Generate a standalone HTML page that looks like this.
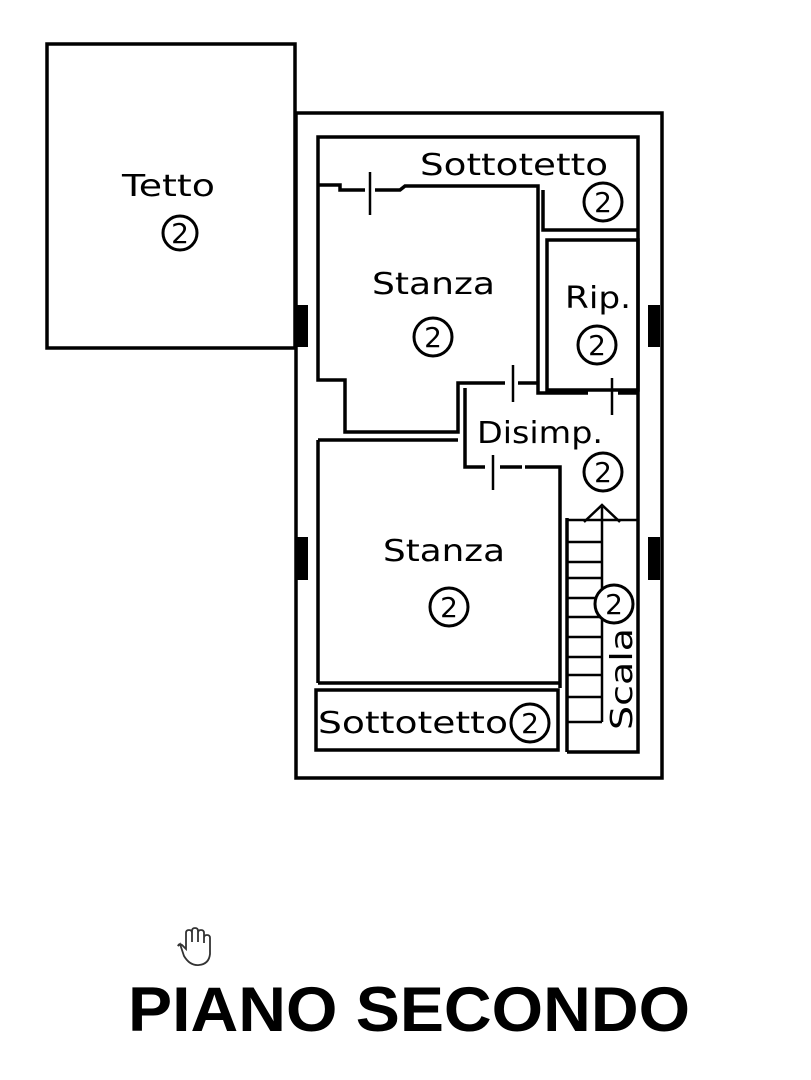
<!DOCTYPE html>
<html><head><meta charset="utf-8"><style>
html,body{margin:0;padding:0;background:#fff;width:811px;height:1080px;overflow:hidden}
svg{display:block}
text{font-family:"DejaVu Sans","Liberation Sans",sans-serif;fill:#000}
</style></head><body>
<svg width="811" height="1080" viewBox="0 0 811 1080" xmlns="http://www.w3.org/2000/svg">
<g fill="none" stroke="#000" stroke-width="3.5" stroke-linejoin="miter">
<rect x="47" y="44" width="248" height="304"/>
<rect x="296" y="113" width="366" height="665"/>
<polyline points="318,190 318,137 638,137 638,752 567,752"/>
<polyline points="543,190 543,230 638,230"/>
<polyline points="318,185 340,185 340,190 365,190"/>
<polyline points="375,190 400,190 405,186 538,186 538,393 588,393"/>
<polyline points="318,190 318,380 345,380 345,432 458,432 458,383 505,383"/>
<line x1="518" y1="383" x2="538" y2="383"/>
<polyline points="618,393 638,393"/>
<rect x="547" y="240" width="91" height="150"/>
<polyline points="465,388 465,467 485,467"/>
<polyline points="500,467 522,467"/>
<polyline points="525,467 560,467 560,688"/>
<polyline points="318,440 458,440"/>
<line x1="318" y1="440" x2="318" y2="683"/>
<line x1="318" y1="683" x2="560" y2="683"/>
<rect x="316" y="690" width="242" height="60"/>
<line x1="567" y1="518" x2="567" y2="752"/>
</g>
<g stroke="#000" stroke-width="2.5">
<line x1="370" y1="172" x2="370" y2="215"/>
<line x1="513" y1="365" x2="513" y2="402"/>
<line x1="612" y1="378" x2="612" y2="415"/>
<line x1="493" y1="455" x2="493" y2="490"/>
</g>
<g fill="#000">
<rect x="296" y="305" width="12" height="42"/>
<rect x="648" y="305" width="12" height="42"/>
<rect x="296" y="537" width="12" height="43"/>
<rect x="648" y="537" width="12" height="43"/>
</g>
<g fill="#fff"><rect x="308" y="307" width="8" height="38"/><rect x="640" y="307" width="8" height="38"/>
<rect x="308" y="539" width="8" height="39"/><rect x="640" y="539" width="8" height="39"/></g>
<g stroke="#000" stroke-width="2.5">
<line x1="567" y1="520" x2="637" y2="520"/>
<line x1="567" y1="542" x2="602" y2="542"/>
<line x1="567" y1="562" x2="602" y2="562"/>
<line x1="567" y1="578" x2="602" y2="578"/>
<line x1="567" y1="598" x2="602" y2="598"/>
<line x1="567" y1="617" x2="602" y2="617"/>
<line x1="567" y1="637" x2="602" y2="637"/>
<line x1="567" y1="657" x2="602" y2="657"/>
<line x1="567" y1="675" x2="602" y2="675"/>
<line x1="567" y1="697" x2="602" y2="697"/>
<line x1="567" y1="722" x2="602" y2="722"/>
<line x1="602" y1="507" x2="602" y2="722"/>
<polyline points="584,522 602,505 620,522" fill="none"/>
</g>
<g fill="#fff" stroke="#000" stroke-width="3">
<circle cx="180" cy="233" r="17"/>
<circle cx="433" cy="337" r="19"/>
<circle cx="603" cy="202" r="19"/>
<circle cx="597" cy="345" r="19"/>
<circle cx="603" cy="472" r="19"/>
<circle cx="449" cy="607" r="19"/>
<circle cx="614" cy="604" r="19"/>
<circle cx="530" cy="723" r="19"/>
</g>
<g font-size="28" text-anchor="middle">
<text x="180" y="243">2</text>
<text x="433" y="347">2</text>
<text x="603" y="212">2</text>
<text x="597" y="355">2</text>
<text x="603" y="482">2</text>
<text x="449" y="617">2</text>
<text x="614" y="614">2</text>
<text x="530" y="733">2</text>
</g>
<g font-size="30">
<text x="420" y="175" textLength="188" lengthAdjust="spacingAndGlyphs">Sottotetto</text>
<text x="122" y="196" textLength="93" lengthAdjust="spacingAndGlyphs">Tetto</text>
<text x="372" y="294" textLength="123" lengthAdjust="spacingAndGlyphs">Stanza</text>
<text x="565" y="308" textLength="66" lengthAdjust="spacingAndGlyphs">Rip.</text>
<text x="477" y="443" textLength="126" lengthAdjust="spacingAndGlyphs">Disimp.</text>
<text x="383" y="561" textLength="122" lengthAdjust="spacingAndGlyphs">Stanza</text>
<text x="318" y="733" textLength="190" lengthAdjust="spacingAndGlyphs">Sottotetto</text>
<text transform="translate(632,730) rotate(-90)" textLength="102" lengthAdjust="spacingAndGlyphs">Scala</text>
</g>
<g fill="none" stroke="#333" stroke-width="1.8">
<path d="M180,944 l4,12 q6,10 15,9 q10,-1 11,-11 l0,-16 q0,-3 -3,-3 q-3,0 -3,3 l0,5 l0,-10 q0,-3 -3,-3 q-3,0 -3,3 l0,9 l0,-11 q0,-3 -3,-3 q-3,0 -3,3 l0,11 l0,-9 q0,-3 -3,-3 q-3,0 -3,3 l0,16 l-4,-4 q-3,-2 -4,1 z"/>
</g>
<text x="128" y="1031" font-weight="bold" font-size="63" textLength="562" lengthAdjust="spacingAndGlyphs" style="font-family:'Liberation Sans',sans-serif">PIANO SECONDO</text>
</svg>
</body></html>
